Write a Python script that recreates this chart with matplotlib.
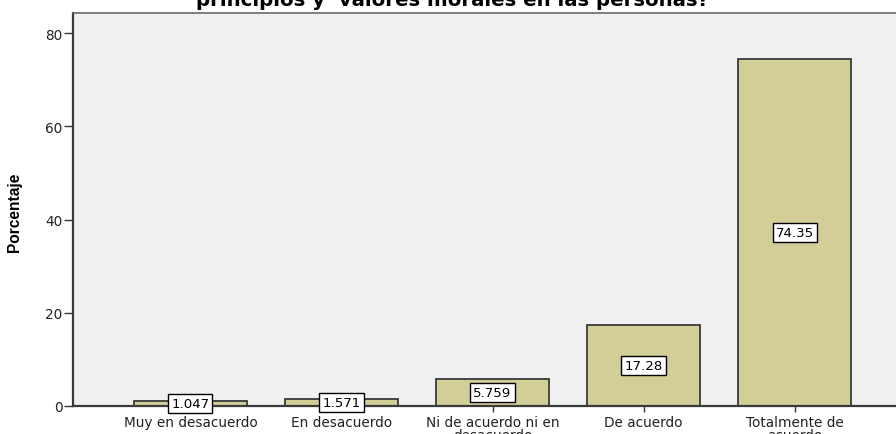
import matplotlib
matplotlib.use("Agg")
import matplotlib.pyplot as plt

categories = ["Muy en desacuerdo", "En desacuerdo", "Ni de acuerdo ni en\ndesacuerdo",
              "De acuerdo", "Totalmente de\nacuerdo"]
values = [1.047, 1.571, 5.759, 17.28, 74.35]
value_labels = ["1.047", "1.571", "5.759", "17.28", "74.35"]
yticks = [0, 20, 40, 60, 80]
title = "principios y  valores morales en las personas?"
ylabel = "Porcentaje"

plt.rcParams['font.family'] = ['DejaVu Sans']

W, H = 896, 435
fig = plt.figure(figsize=(W / 100, H / 100), dpi=100)
ax = fig.add_axes([73 / W, 28 / H, (912 - 73) / W, (407 - 14) / H])
ax.set_facecolor("#f0f0f0")

x = list(range(len(categories)))
ax.bar(x, values, width=0.75, color="#d3ce97", edgecolor="#3a3a3a", linewidth=1.3, zorder=2)

for xi, v, lab in zip(x, values, value_labels):
    ax.text(xi, v / 2, lab, ha="center", va="center", fontsize=9.6, color="black", zorder=3,
            bbox=dict(boxstyle="square,pad=0.22", facecolor="white", edgecolor="black", linewidth=1.0))

ax.set_xlim(-0.778, 4.778)
ax.set_ylim(0, 84.3)
ax.set_yticks(yticks)
ax.set_yticklabels([str(t) for t in yticks])
ax.set_xticks(x)
ax.set_xticklabels(categories, fontsize=9.8, linespacing=0.92)
ax.tick_params(axis="y", length=6.5, width=1.0, color="#333333", pad=1, labelsize=9.8, labelcolor="#222222")
ax.tick_params(axis="x", length=4, width=1.0, color="#333333", pad=2.5, labelcolor="#222222")

for s in ["left", "bottom"]:
    ax.spines[s].set_color("#3a3a3a")
    ax.spines[s].set_linewidth(1.6)
for s in ["top", "right"]:
    ax.spines[s].set_color("#6a6a6a")
    ax.spines[s].set_linewidth(1.2)

ax.set_ylabel(ylabel, fontsize=11.2, fontweight="bold", family=["Liberation Sans", "DejaVu Sans"])
ax.yaxis.set_label_coords(-0.061, 0.495)

fig.text(452 / W, 1 - 5.5 / H, title, ha="center", va="baseline", fontsize=14.2, fontweight="bold")

fig.savefig("out.png", dpi=100)
